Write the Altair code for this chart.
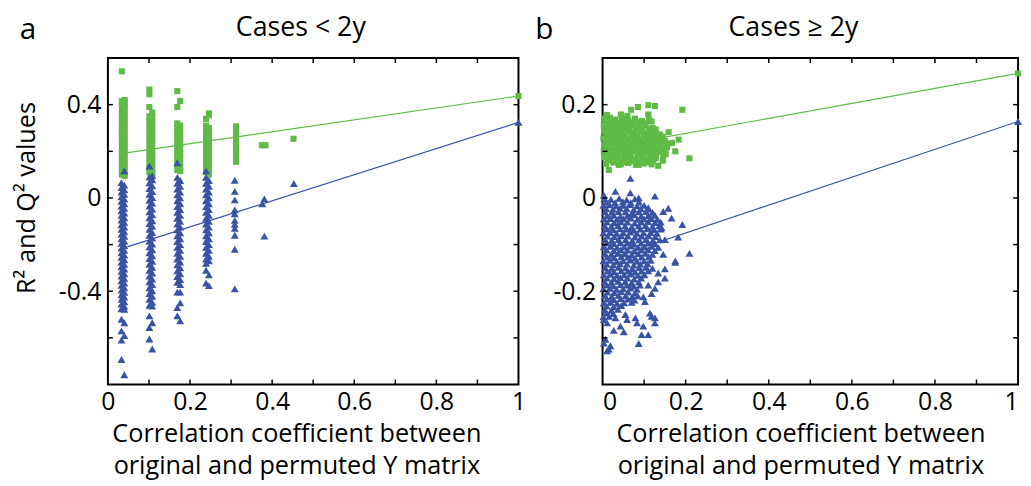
import altair as alt
import pandas as pd

GREEN = "#5fba46"
BLUE = "#3953a4"
FONT = "Open Sans"

# ---------------- Panel a : Cases < 2y ----------------
# R2 (green squares), one list of y values per x position (permutation groups)
A_R2_X = [0.034, 0.041, 0.101, 0.108, 0.169, 0.176, 0.239, 0.246, 0.312, 0.375, 0.384, 0.452, 1.0]
A_R2_Y = [
    [0.543, 0.415, 0.40, 0.38, 0.36, 0.34, 0.32, 0.30, 0.28, 0.26, 0.24, 0.22, 0.20, 0.18, 0.16, 0.14, 0.12, 0.10],
    [0.42, 0.405, 0.39, 0.37, 0.35, 0.33, 0.31, 0.29, 0.27, 0.25, 0.23, 0.21, 0.19, 0.17, 0.15, 0.13, 0.11, 0.095],
    [0.465, 0.445, 0.39, 0.35, 0.33, 0.31, 0.29, 0.27, 0.25, 0.23, 0.21, 0.19, 0.17, 0.15, 0.13, 0.11],
    [0.366, 0.345, 0.325, 0.305, 0.285, 0.265, 0.245, 0.225, 0.205, 0.185, 0.165, 0.145, 0.125, 0.105, 0.10],
    [0.458, 0.39, 0.32, 0.30, 0.28, 0.26, 0.24, 0.22, 0.20, 0.18, 0.16, 0.14, 0.12],
    [0.416, 0.31, 0.29, 0.27, 0.25, 0.23, 0.21, 0.19, 0.17, 0.15, 0.13, 0.115],
    [0.339, 0.31, 0.29, 0.27, 0.25, 0.23, 0.21, 0.19, 0.17, 0.15, 0.13, 0.11],
    [0.363, 0.355, 0.30, 0.28, 0.26, 0.24, 0.22, 0.20, 0.18, 0.16, 0.14, 0.12, 0.10],
    [0.307, 0.29, 0.275, 0.26, 0.245, 0.23, 0.215, 0.20, 0.185, 0.17, 0.155],
    [0.226],
    [0.226],
    [0.254],
    [0.437],
]
# Q2 (blue triangles)
A_Q2_X = [0.033, 0.040, 0.101, 0.108, 0.169, 0.176, 0.239, 0.246, 0.309, 0.376, 0.381, 0.453, 1.0]
A_Q2_Y = [
    [0.066, 0.045, 0.025, 0.005, -0.015, -0.035, -0.055, -0.075, -0.095, -0.115, -0.135, -0.155, -0.175, -0.195,
     -0.215, -0.235, -0.255, -0.275, -0.295, -0.315, -0.335, -0.355, -0.375, -0.395, -0.415, -0.435, -0.455,
     -0.475, -0.52, -0.57, -0.61, -0.693],
    [0.116, 0.055, 0.035, 0.015, -0.005, -0.025, -0.045, -0.065, -0.085, -0.105, -0.125, -0.145, -0.165, -0.185,
     -0.205, -0.225, -0.245, -0.265, -0.285, -0.305, -0.325, -0.345, -0.365, -0.385, -0.405, -0.425, -0.445,
     -0.465, -0.478, -0.535, -0.59, -0.758],
    [0.137, 0.09, 0.065, 0.04, 0.015, -0.01, -0.035, -0.06, -0.085, -0.11, -0.135, -0.16, -0.185, -0.21, -0.235,
     -0.26, -0.285, -0.31, -0.335, -0.36, -0.385, -0.41, -0.435, -0.46, -0.506, -0.556, -0.605],
    [0.095, 0.078, 0.052, 0.027, 0.002, -0.022, -0.048, -0.072, -0.098, -0.122, -0.148, -0.172, -0.198, -0.222,
     -0.248, -0.272, -0.298, -0.322, -0.348, -0.372, -0.398, -0.422, -0.448, -0.464, -0.535, -0.648],
    [0.151, 0.088, 0.063, 0.038, 0.013, -0.012, -0.037, -0.062, -0.087, -0.112, -0.137, -0.162, -0.187, -0.212,
     -0.237, -0.262, -0.287, -0.312, -0.337, -0.362, -0.404, -0.47, -0.506],
    [0.075, 0.05, 0.025, 0.0, -0.025, -0.05, -0.075, -0.10, -0.125, -0.15, -0.175, -0.20, -0.225, -0.25, -0.275,
     -0.30, -0.325, -0.35, -0.372, -0.404, -0.45, -0.527],
    [0.116, 0.088, 0.063, 0.038, 0.013, -0.012, -0.037, -0.062, -0.087, -0.112, -0.137, -0.162, -0.187, -0.212,
     -0.237, -0.262, -0.28, -0.31, -0.365],
    [0.075, 0.05, 0.025, 0.0, -0.025, -0.05, -0.075, -0.10, -0.125, -0.15, -0.175, -0.20, -0.225, -0.25, -0.27,
     -0.33, -0.376],
    [0.076, 0.028, -0.008, -0.051, -0.068, -0.096, -0.113, -0.13, -0.16, -0.22, -0.39],
    [-0.025],
    [-0.004, -0.164],
    [0.062],
    [0.324],
]
A_R2_LINE_X = [0.044, 1.0]
A_R2_LINE_Y = [0.193, 0.437]
A_Q2_LINE_X = [0.047, 1.0]
A_Q2_LINE_Y = [-0.21, 0.324]

# ---------------- Panel b : Cases >= 2y ----------------
B_R2 = [
    (0.110, 0.199), (0.126, 0.197), (0.192, 0.189), (0.085, 0.195), (0.069, 0.189), (0.110, 0.179),
    (0.044, 0.179), (0.011, 0.178), (0.060, 0.176), (0.118, 0.164), (0.159, 0.141), (0.183, 0.125),
    (0.167, 0.118), (0.175, 0.100), (0.209, 0.085), (0.134, 0.069), (0.015, 0.060), (0.146, 0.090),
    (0.087, 0.071), (0.039, 0.071),
    (0.004, 0.170), (0.018, 0.172), (0.031, 0.168), (0.047, 0.171), (0.062, 0.166), (0.078, 0.170),
    (0.095, 0.165), (0.112, 0.168),
    (0.011, 0.163), (0.025, 0.163), (0.040, 0.162), (0.055, 0.164), (0.070, 0.161), (0.086, 0.163),
    (0.103, 0.160),
    (0.003, 0.156), (0.016, 0.158), (0.030, 0.154), (0.044, 0.157), (0.058, 0.153), (0.072, 0.156),
    (0.088, 0.152), (0.104, 0.155), (0.120, 0.150),
    (0.010, 0.149), (0.023, 0.150), (0.037, 0.148), (0.051, 0.149), (0.065, 0.147), (0.080, 0.149),
    (0.096, 0.148), (0.112, 0.146), (0.128, 0.147),
    (0.005, 0.143), (0.019, 0.141), (0.033, 0.145), (0.048, 0.140), (0.063, 0.144), (0.077, 0.139),
    (0.092, 0.142), (0.107, 0.138), (0.122, 0.141), (0.138, 0.136),
    (0.009, 0.135), (0.026, 0.134), (0.040, 0.136), (0.055, 0.133), (0.070, 0.135), (0.084, 0.133),
    (0.099, 0.134), (0.114, 0.132), (0.129, 0.134), (0.145, 0.131),
    (0.002, 0.128), (0.016, 0.130), (0.030, 0.126), (0.045, 0.129), (0.060, 0.125), (0.075, 0.128),
    (0.090, 0.124), (0.105, 0.127), (0.119, 0.123), (0.134, 0.126), (0.150, 0.122),
    (0.009, 0.121), (0.023, 0.120), (0.038, 0.122), (0.052, 0.119), (0.067, 0.121), (0.082, 0.120),
    (0.097, 0.118), (0.112, 0.121), (0.127, 0.119), (0.142, 0.120), (0.158, 0.117),
    (0.006, 0.114), (0.020, 0.117), (0.034, 0.112), (0.049, 0.116), (0.064, 0.111), (0.079, 0.115),
    (0.094, 0.110), (0.109, 0.113), (0.124, 0.109), (0.140, 0.112), (0.155, 0.108),
    (0.010, 0.107), (0.027, 0.106), (0.041, 0.108), (0.056, 0.105), (0.071, 0.107), (0.086, 0.106),
    (0.101, 0.104), (0.116, 0.107), (0.131, 0.105), (0.147, 0.104),
    (0.003, 0.100), (0.017, 0.103), (0.031, 0.099), (0.046, 0.102), (0.061, 0.097), (0.076, 0.101),
    (0.091, 0.096), (0.106, 0.100), (0.121, 0.095), (0.137, 0.099), (0.152, 0.094),
    (0.010, 0.093), (0.024, 0.092), (0.039, 0.094), (0.054, 0.091), (0.068, 0.093), (0.084, 0.092),
    (0.099, 0.090), (0.114, 0.093), (0.129, 0.091),
    (0.005, 0.087), (0.020, 0.084), (0.035, 0.088), (0.050, 0.083), (0.066, 0.087), (0.081, 0.082),
    (0.097, 0.086), (0.113, 0.081), (0.128, 0.085), (0.145, 0.080),
    (0.013, 0.080), (0.028, 0.078), (0.043, 0.080), (0.058, 0.077), (0.073, 0.079), (0.090, 0.078),
    (0.106, 0.077), (0.122, 0.079),
    (0.008, 0.073), (0.026, 0.076), (0.044, 0.072), (0.062, 0.075), (0.080, 0.071), (0.100, 0.074),
    (0.118, 0.072),
    (1.0, 0.267),
]
B_Q2 = [
    (0.067, 0.042), (0.126, 0.004), (0.003, 0.006), (0.031, 0.014), (0.067, 0.011), (0.087, 0.000),
    (0.110, -0.021), (0.158, -0.022), (0.146, -0.029), (0.166, -0.043), (0.192, -0.057), (0.142, -0.064),
    (0.182, -0.084), (0.150, -0.089), (0.209, -0.119), (0.146, -0.121), (0.175, -0.135), (0.175, -0.138),
    (0.150, -0.152), (0.134, -0.161), (0.150, -0.172), (0.134, -0.180), (0.110, -0.187), (0.126, -0.194),
    (0.118, -0.205), (0.098, -0.212), (0.102, -0.222), (0.114, -0.247), (0.126, -0.257), (0.126, -0.268),
    (0.079, -0.257), (0.083, -0.268), (0.098, -0.275), (0.055, -0.250), (0.059, -0.261), (0.031, -0.257),
    (0.043, -0.275), (0.027, -0.284), (0.051, -0.287), (0.011, -0.268), (0.003, -0.261), (0.094, -0.293),
    (0.110, -0.293), (0.087, -0.312), (0.007, -0.303), (0.019, -0.317), (0.011, -0.328), (0.003, -0.311),
    (0.015, -0.324), (0.118, -0.254),
    (0.004, -0.002), (0.020, -0.003), (0.040, -0.001), (0.058, -0.004), (0.078, -0.002),
    (0.010, -0.009), (0.030, -0.010), (0.049, -0.008), (0.068, -0.010), (0.088, -0.009),
    (0.002, -0.016), (0.017, -0.015), (0.033, -0.017), (0.050, -0.016), (0.066, -0.014), (0.083, -0.017),
    (0.100, -0.016),
    (0.009, -0.023), (0.025, -0.024), (0.042, -0.022), (0.058, -0.023), (0.075, -0.025), (0.092, -0.023),
    (0.110, -0.024),
    (0.006, -0.030), (0.022, -0.031), (0.038, -0.029), (0.055, -0.030), (0.071, -0.032), (0.088, -0.030),
    (0.104, -0.029), (0.120, -0.031),
    (0.011, -0.038), (0.027, -0.037), (0.043, -0.039), (0.060, -0.038), (0.076, -0.036), (0.093, -0.039),
    (0.110, -0.038), (0.126, -0.037),
    (0.003, -0.045), (0.019, -0.044), (0.035, -0.046), (0.051, -0.045), (0.068, -0.043), (0.084, -0.046),
    (0.100, -0.045), (0.117, -0.044), (0.132, -0.046),
    (0.011, -0.052), (0.028, -0.053), (0.044, -0.051), (0.060, -0.052), (0.077, -0.054), (0.093, -0.052),
    (0.110, -0.051), (0.126, -0.053), (0.140, -0.052),
    (0.005, -0.060), (0.021, -0.061), (0.037, -0.059), (0.054, -0.060), (0.070, -0.062), (0.087, -0.060),
    (0.103, -0.059), (0.120, -0.061), (0.136, -0.060),
    (0.010, -0.067), (0.026, -0.068), (0.042, -0.066), (0.058, -0.067), (0.075, -0.069), (0.091, -0.067),
    (0.108, -0.066), (0.124, -0.068), (0.140, -0.067),
    (0.002, -0.075), (0.018, -0.074), (0.034, -0.076), (0.050, -0.075), (0.067, -0.073), (0.083, -0.076),
    (0.099, -0.075), (0.116, -0.074), (0.131, -0.076),
    (0.012, -0.082), (0.028, -0.083), (0.045, -0.081), (0.061, -0.082), (0.078, -0.084), (0.094, -0.082),
    (0.111, -0.081), (0.127, -0.083),
    (0.006, -0.090), (0.022, -0.091), (0.038, -0.089), (0.055, -0.090), (0.071, -0.092), (0.088, -0.090),
    (0.104, -0.089), (0.121, -0.091), (0.138, -0.090),
    (0.011, -0.097), (0.027, -0.098), (0.043, -0.096), (0.060, -0.097), (0.076, -0.099), (0.093, -0.097),
    (0.110, -0.096), (0.126, -0.098),
    (0.003, -0.105), (0.019, -0.104), (0.035, -0.106), (0.052, -0.105), (0.068, -0.103), (0.085, -0.106),
    (0.101, -0.105), (0.118, -0.104), (0.134, -0.106),
    (0.010, -0.112), (0.027, -0.113), (0.044, -0.111), (0.060, -0.112), (0.077, -0.114), (0.094, -0.112),
    (0.110, -0.111), (0.126, -0.113),
    (0.005, -0.120), (0.021, -0.121), (0.037, -0.119), (0.054, -0.120), (0.070, -0.122), (0.086, -0.120),
    (0.103, -0.119), (0.120, -0.121),
    (0.011, -0.127), (0.028, -0.128), (0.045, -0.126), (0.061, -0.127), (0.078, -0.129), (0.094, -0.127),
    (0.111, -0.126),
    (0.002, -0.135), (0.018, -0.134), (0.034, -0.136), (0.050, -0.135), (0.067, -0.133), (0.083, -0.136),
    (0.100, -0.135), (0.116, -0.134),
    (0.010, -0.142), (0.026, -0.143), (0.042, -0.141), (0.059, -0.142), (0.075, -0.144), (0.091, -0.142),
    (0.108, -0.141),
    (0.006, -0.150), (0.022, -0.151), (0.038, -0.149), (0.055, -0.150), (0.071, -0.152), (0.088, -0.150),
    (0.104, -0.149), (0.120, -0.151),
    (0.012, -0.157), (0.028, -0.158), (0.045, -0.156), (0.061, -0.157), (0.078, -0.159), (0.094, -0.157),
    (0.110, -0.156),
    (0.003, -0.165), (0.019, -0.164), (0.035, -0.166), (0.052, -0.165), (0.068, -0.163), (0.085, -0.166),
    (0.101, -0.165),
    (0.011, -0.172), (0.027, -0.173), (0.043, -0.171), (0.060, -0.172), (0.076, -0.174), (0.093, -0.172),
    (0.005, -0.180), (0.021, -0.181), (0.037, -0.179), (0.054, -0.180), (0.070, -0.182), (0.087, -0.180),
    (0.010, -0.187), (0.026, -0.188), (0.043, -0.186), (0.059, -0.187), (0.075, -0.189), (0.090, -0.187),
    (0.002, -0.195), (0.018, -0.194), (0.034, -0.196), (0.050, -0.195), (0.067, -0.193), (0.083, -0.196),
    (0.012, -0.202), (0.028, -0.203), (0.045, -0.201), (0.062, -0.202), (0.078, -0.204),
    (0.006, -0.210), (0.022, -0.211), (0.038, -0.209), (0.055, -0.210), (0.071, -0.212), (0.085, -0.210),
    (0.011, -0.217), (0.027, -0.218), (0.044, -0.216), (0.061, -0.217), (0.077, -0.219),
    (0.003, -0.225), (0.019, -0.224), (0.035, -0.226), (0.052, -0.225), (0.070, -0.224),
    (0.010, -0.232), (0.027, -0.233), (0.045, -0.231),
    (0.005, -0.240), (0.021, -0.241), (0.037, -0.239),
    (0.010, -0.247), (0.026, -0.248),
    (0.002, -0.255), (0.016, -0.254),
    (1.0, 0.164),
]
B_R2_LINE_X = [0.02, 1.0]
B_R2_LINE_Y = [0.1095, 0.267]
B_Q2_LINE_X = [0.02, 1.0]
B_Q2_LINE_Y = [-0.129, 0.164]

# axes
X_LABELS = [0, 0.2, 0.4, 0.6, 0.8, 1]
X_TICKS = [0.1, 0.2, 0.3, 0.4, 0.5, 0.6, 0.7, 0.8, 0.9]
A_Y_LABELS = [-0.4, 0, 0.4]
A_Y_TICKS = [-0.6, -0.4, -0.2, 0, 0.2, 0.4]
B_Y_LABELS = [-0.2, 0, 0.2]
B_Y_TICKS = [-0.3, -0.2, -0.1, 0, 0.1, 0.2]

TICK = 5
H = 330


def grouped(xs, yss):
    rows = []
    for x, ys in zip(xs, yss):
        for y in ys:
            rows.append({"x": x, "y": y})
    return pd.DataFrame(rows)


def panel(W, r2_df, q2_df, r2_line, q2_line, xdom, ydom, ylabels, yticks,
          title, title_dx, letter, letter_x, ytitle, xtitle_x, flush_last):
    xs = alt.Scale(domain=xdom, nice=False, zero=False)
    ys = alt.Scale(domain=ydom, nice=False, zero=False)
    xaxis = alt.Axis(values=X_LABELS, labelExpr="'' + datum.value", tickSize=0, domain=False,
                     grid=False, labelPadding=5, labelFontSize=25, labelFont=FONT, labelColor="black",
                     labelFlush=flush_last, labelFlushOffset=0,
                     title=["Correlation coefficient between", "original and permuted Y matrix"],
                     titleFontSize=25.5, titleFont=FONT, titleFontWeight="normal", titleColor="black",
                     titleLineHeight=32, titlePadding=8, titleX=xtitle_x)
    yaxis_kw = dict(values=ylabels, labelExpr="'' + datum.value", tickSize=0, domain=False, grid=False,
                    labelPadding=7, labelFontSize=25, labelFont=FONT, labelColor="black")
    if ytitle:
        yaxis = alt.Axis(title=ytitle, titleFontSize=25.5, titleFont=FONT, titleFontWeight="normal",
                         titleColor="black", titlePadding=19, titleY=141, **yaxis_kw)
    else:
        yaxis = alt.Axis(title=None, **yaxis_kw)

    X = lambda f: alt.X(f, scale=xs, axis=xaxis)
    Y = lambda f: alt.Y(f, scale=ys, axis=yaxis)

    r2 = alt.Chart(r2_df).mark_point(shape="square", filled=True, size=38, color=GREEN, opacity=1).encode(
        x=X("x:Q"), y=Y("y:Q"))
    r2l = alt.Chart(pd.DataFrame({"x": r2_line[0], "y": r2_line[1]})).mark_line(color=GREEN, strokeWidth=1.2).encode(
        x=X("x:Q"), y=Y("y:Q"))
    q2 = alt.Chart(q2_df).mark_point(shape="triangle-up", filled=True, size=64, color=BLUE, opacity=1).encode(
        x=X("x:Q"), y=Y("y:Q"))
    q2l = alt.Chart(pd.DataFrame({"x": q2_line[0], "y": q2_line[1]})).mark_line(color=BLUE, strokeWidth=1.2).encode(
        x=X("x:Q"), y=Y("y:Q"))

    ydf = pd.DataFrame({"y": yticks})
    xdf = pd.DataFrame({"x": X_TICKS})
    rule = dict(color="black", strokeWidth=1.5)
    t1 = alt.Chart(ydf).mark_rule(**rule).encode(y=Y("y:Q"), x=alt.value(0), x2=alt.value(TICK))
    t2 = alt.Chart(ydf).mark_rule(**rule).encode(y=Y("y:Q"), x=alt.value(W - TICK), x2=alt.value(W))
    t3 = alt.Chart(xdf).mark_rule(**rule).encode(x=X("x:Q"), y=alt.value(0), y2=alt.value(TICK))
    t4 = alt.Chart(xdf).mark_rule(**rule).encode(x=X("x:Q"), y=alt.value(H - TICK), y2=alt.value(H))

    ttl = alt.Chart(pd.DataFrame({"t": [title]})).mark_text(
        font=FONT, fontSize=27, color="black", align="center", baseline="alphabetic").encode(
        text="t:N", x=alt.value(W / 2 + title_dx), y=alt.value(-22))
    let = alt.Chart(pd.DataFrame({"t": [letter]})).mark_text(
        font=FONT, fontSize=30, color="black", align="left", baseline="alphabetic").encode(
        text="t:N", x=alt.value(letter_x), y=alt.value(-19))

    return alt.layer(r2, r2l, q2, q2l, t1, t2, t3, t4, ttl, let).properties(width=W, height=H)


left = panel(415, grouped(A_R2_X, A_R2_Y), grouped(A_Q2_X, A_Q2_Y),
             (A_R2_LINE_X, A_R2_LINE_Y), (A_Q2_LINE_X, A_Q2_LINE_Y),
             [0, 1], [-0.8, 0.6], A_Y_LABELS, A_Y_TICKS,
             "Cases < 2y", -12.5, "a", -89, "R² and Q² values", 190.5, False)
right = panel(420, pd.DataFrame(B_R2, columns=["x", "y"]), pd.DataFrame(B_Q2, columns=["x", "y"]),
              (B_R2_LINE_X, B_R2_LINE_Y), (B_Q2_LINE_X, B_Q2_LINE_Y),
              [0, 1], [-0.4, 0.3], B_Y_LABELS, B_Y_TICKS,
              "Cases ≥ 2y", -17, "b", -68, None, 200, True)

chart = alt.hconcat(left, right, spacing=85, bounds="flush").properties(
    padding={"left": 5, "top": 3, "right": 0, "bottom": 0}
).configure(font=FONT).configure_view(stroke="black", strokeWidth=2)

chart.save("out.html", embed_options={"renderer": "svg", "actions": False})
